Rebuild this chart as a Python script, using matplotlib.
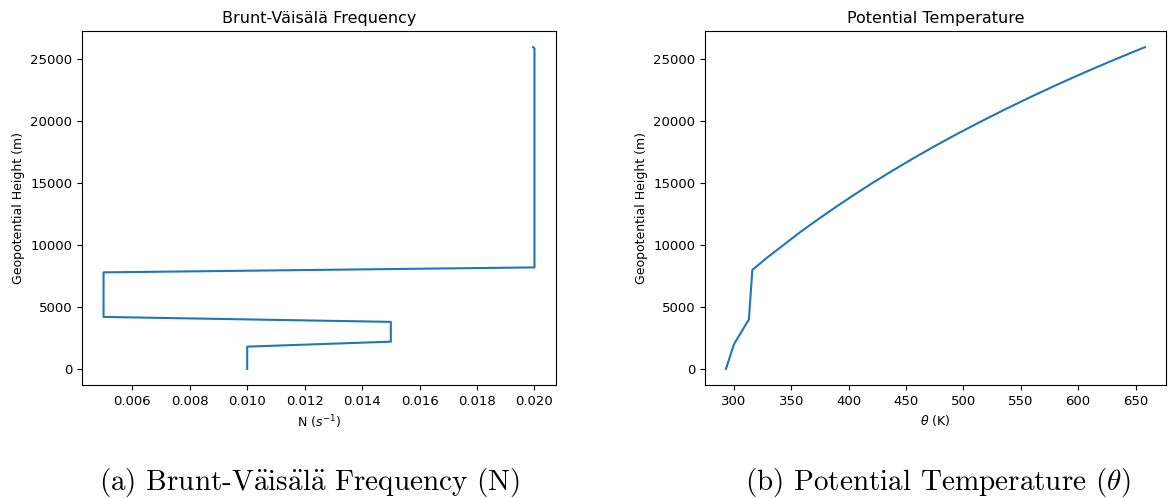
import matplotlib
matplotlib.use("Agg")
from matplotlib import pyplot as plt

# Brunt-Vaisala profile.
N_vals = [0.010, 0.010, 0.015, 0.015, 0.005, 0.005, 0.020, 0.020, 0.01995]
N_height = [0, 1800, 2200, 3800, 4200, 7800, 8200, 25900, 26000]

# Potential temperature profile.
theta_vals = [293, 300, 313, 316, 329, 343, 357, 372, 387.5, 403.6, 420.3,
              437.9, 456, 475, 494.8, 515.5, 536.9, 559.3, 582.5, 606.8,
              632, 658.3]
theta_height = [0, 2000, 4000, 8000, 9000, 10000, 11000, 12000, 13000,
                14000, 15000, 16000, 17000, 18000, 19000, 20000, 21000,
                22000, 23000, 24000, 25000, 26000]

fig = plt.figure(figsize=(11.72, 4.98), dpi=100)

ax1 = fig.add_axes([82/1172, 1 - 385/498, 474/1172, 354/498])
ax1.plot(N_vals, N_height, color='#1f77b4', lw=1.5)
ax1.set_title('Brunt-Väisälä Frequency', fontsize=11.5)
ax1.set_xlabel('N ($s^{-1}$)', fontsize=9)
ax1.set_ylabel('Geopotential Height (m)', fontsize=9)
ax1.tick_params(labelsize=9.5)

ax2 = fig.add_axes([705/1172, 1 - 385/498, 461/1172, 354/498])
ax2.plot(theta_vals, theta_height, color='#1f77b4', lw=1.5)
ax2.set_title('Potential Temperature', fontsize=11.5)
ax2.set_xlabel(r'$\theta$ (K)', fontsize=9)
ax2.set_ylabel('Geopotential Height (m)', fontsize=9)
ax2.tick_params(labelsize=9.5)

# Captions set in Computer Modern, umlauts through mathtext accents.
uml = r'$\ddot{\mathrm{a}}$'
cap_a = '(a) Brunt-V' + uml + 'is' + uml + 'l' + uml + ' Frequency (N)'
cap_b = r'(b) Potential Temperature ($\theta$)'
for x, s in [(310, cap_a), (938, cap_b)]:
    fig.text(x/1172, 1 - 482/498, s, ha='center', va='center',
             fontsize=21, family=['cmr10', 'DejaVu Serif'],
             math_fontfamily='cm')

fig.savefig('out.png', dpi=100)
